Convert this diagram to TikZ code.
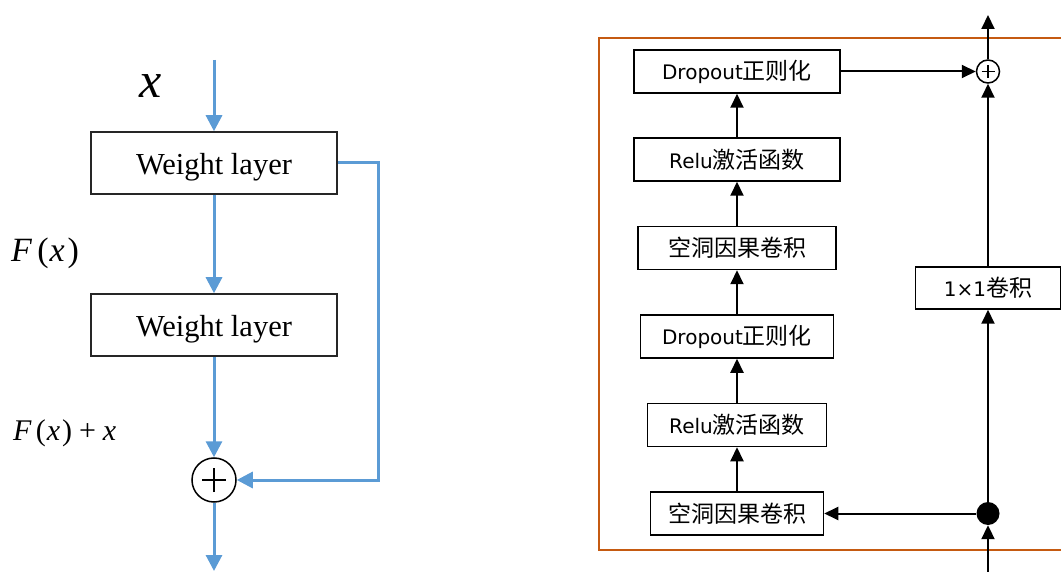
\documentclass[tikz,border=0pt]{standalone}
\usepackage{fontspec}
\setmainfont{Liberation Serif}
\newfontfamily\cjkfont{Noto Sans CJK SC}
\newfontfamily\dvsfont{DejaVu Sans}
\usetikzlibrary{arrows.meta}

\definecolor{resblue}{HTML}{5B9BD5}
\definecolor{frameorange}{HTML}{C55A11}

% Chinese part of a label, slightly larger than the Latin part
\newcommand\zhtxt[1]{{\cjkfont\fontsize{23}{26}\selectfont #1}}

\begin{document}
\begin{tikzpicture}[x=1pt,y=-1pt,
  wbox/.style={draw=black!85, line width=1.5pt, fill=white,
    minimum width=246pt, minimum height=62pt, inner sep=0pt,
    text height=24pt, text depth=0pt,
    font=\fontsize{30.5}{36}\selectfont},
  bflow/.style={draw=resblue, line width=3pt,
    -{Triangle[length=16pt,width=16pt]}},
  cbox/.style={draw=black, line width=1.5pt, fill=white,
    minimum height=43pt, inner sep=0pt,
    font=\dvsfont\fontsize{20}{24}\selectfont},
  kflow/.style={draw=black, line width=2pt,
    -{Triangle[length=14pt,width=13pt]}},
  mathlbl/.style={inner sep=0pt, anchor=west},
]
\useasboundingbox (0,0) rectangle (1061,572);

% ---------------- residual block (left) ----------------
\node[wbox] (w1) at (214,163) {Weight layer};
\node[wbox] (w2) at (214,325) {Weight layer};
\node[circle, draw=black, line width=1.5pt, minimum size=44pt, inner sep=0pt] (sum) at (214,480) {};
\draw[line width=1.5pt] ([xshift=-12pt]sum.center) -- ([xshift=12pt]sum.center)
                        ([yshift=-12pt]sum.center) -- ([yshift=12pt]sum.center);

\coordinate (xin) at (214,60);
\coordinate (yout) at (214,571);
\coordinate (skip) at (378,163);

\draw[bflow] (xin) -- (w1);
\draw[bflow] (w1) -- (w2);
\draw[bflow] (w2) -- (sum);
\draw[bflow] (sum) -- (yout);
\draw[bflow] (w1.east) -- (skip) |- (sum);

\node[mathlbl] (lx) at (139,86) {\fontsize{50}{54}\selectfont\itshape x};
\node[mathlbl] (lf) at (11,253) {\fontsize{34}{38}\selectfont\textit{F}\kern5pt(\kern1pt\textit{x}\kern3pt)};
\node[mathlbl] (lfx) at (13,433) {\fontsize{30}{34}\selectfont\textit{F}\kern4pt(\kern1pt\textit{x}\kern2pt)\kern7pt+\kern7pt\textit{x}};

% ---------------- TCN residual block (right) ----------------
\draw[frameorange, line width=2.5pt] (1070,38) -- (599,38) -- (599,550) -- (1070,550);

\node[cbox, minimum width=206pt] (d1) at (737,71.5)  {Dropout\zhtxt{正则化}};
\node[cbox, minimum width=206pt] (r1) at (737,159.5) {Relu\zhtxt{激活函数}};
\node[cbox, minimum width=198pt] (k1) at (737,248)   {\zhtxt{空洞因果卷积}};
\node[cbox, minimum width=193pt] (d2) at (737,336.5) {Dropout\zhtxt{正则化}};
\node[cbox, minimum width=179pt] (r2) at (737,425)   {Relu\zhtxt{激活函数}};
\node[cbox, minimum width=173pt] (k2) at (737,513.5) {\zhtxt{空洞因果卷积}};
\node[cbox, minimum width=145pt, minimum height=42pt] (conv) at (988,288) {1×1\zhtxt{卷积}};

\node[circle, draw=black, line width=1.5pt, fill=white, minimum size=23pt, inner sep=0pt] (plus) at (988,71.5) {};
\draw[line width=1.5pt] ([xshift=-6.5pt]plus.center) -- ([xshift=6.5pt]plus.center)
                        ([yshift=-6.5pt]plus.center) -- ([yshift=6.5pt]plus.center);
\node[circle, fill=black, minimum size=23pt, inner sep=0pt] (dot) at (988,513.5) {};

\coordinate (tin) at (988,572);
\coordinate (tout) at (988,15);

\draw[kflow] (k2) -- (r2);
\draw[kflow] (r2) -- (d2);
\draw[kflow] (d2) -- (k1);
\draw[kflow] (k1) -- (r1);
\draw[kflow] (r1) -- (d1);
\draw[kflow] (d1) -- (plus);
\draw[kflow] (tin) -- (dot);
\draw[kflow] (dot) -- (k2);
\draw[kflow] (dot) -- (conv);
\draw[kflow] (conv) -- (plus);
\draw[kflow] (plus) -- (tout);
\end{tikzpicture}
\end{document}
